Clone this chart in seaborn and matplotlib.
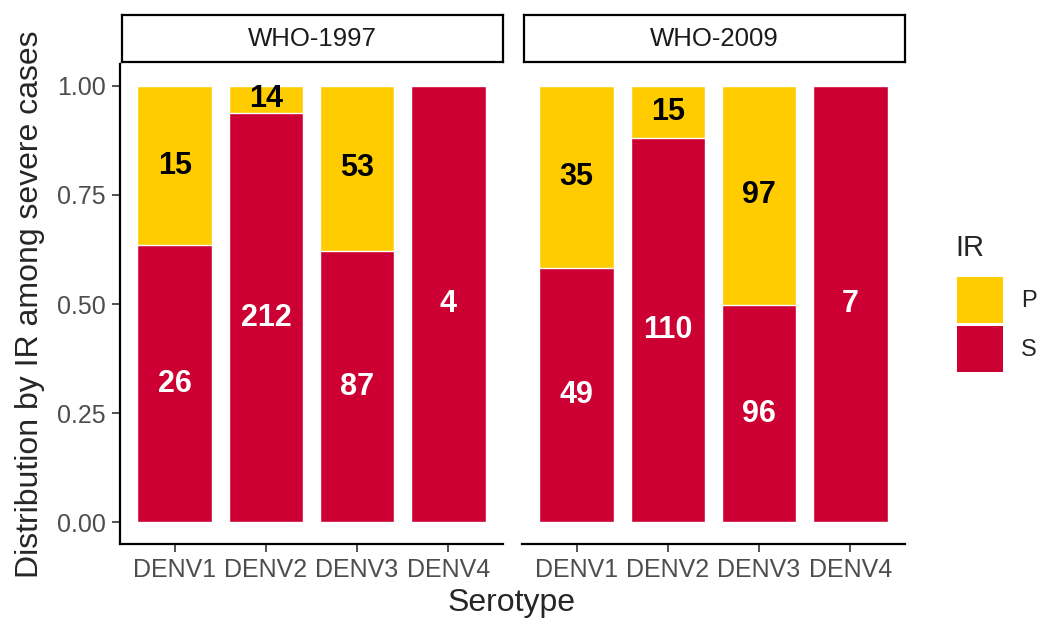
import numpy as np
import pandas as pd
import matplotlib
matplotlib.use("Agg")
import matplotlib.pyplot as plt
import seaborn as sns
from matplotlib.patches import Patch

# values
serotypes = ["DENV1", "DENV2", "DENV3", "DENV4"]
classifications = ["WHO-1997", "WHO-2009"]
who1997_s = [26, 212, 87, 4]
who1997_p = [15, 14, 53, 0]
who2009_s = [49, 110, 96, 7]
who2009_p = [35, 15, 97, 0]

yellow = "#FFCC00"
red = "#CC0033"

rows = []
for who, s_vals, p_vals in zip(classifications, [who1997_s, who2009_s], [who1997_p, who2009_p]):
    for sero, s, p in zip(serotypes, s_vals, p_vals):
        rows.append({"WHO": who, "Serotype": sero, "S": s, "P": p})
df = pd.DataFrame(rows)
df["total"] = df["S"] + df["P"]
df["s_share"] = df["S"] / df["total"]
df["top"] = (df["S"] + df["P"]) / df["total"]

sns.set_theme(style="white")
plt.rcParams["font.family"] = ["Liberation Sans", "DejaVu Sans"]

W, H = 1043, 625
fig = plt.figure(figsize=(W / 100, H / 100), dpi=100)

def px_box(x0, y0, x1, y1):
    # pixel box (top-left origin) -> figure fraction rect
    return [x0 / W, 1 - y1 / H, (x1 - x0) / W, (y1 - y0) / H]

panels = [(120, 503), (522, 905)]
for k, (who, (x0, x1)) in enumerate(zip(classifications, panels)):
    ax = fig.add_axes(px_box(x0, 64, x1, 544))
    sub = df[df["WHO"] == who]
    sns.barplot(data=sub, x="Serotype", y="top", order=serotypes, color=yellow,
                saturation=1, width=0.82, ax=ax)
    sns.barplot(data=sub, x="Serotype", y="s_share", order=serotypes, color=red,
                saturation=1, width=0.82, ax=ax)
    for i, r in enumerate(sub.itertuples()):
        ax.text(i, r.s_share / 2, str(r.S), color="white", fontsize=22,
                fontweight="bold", ha="center", va="center")
        if r.P > 0:
            ax.text(i, r.s_share + (1 - r.s_share) / 2, str(r.P), color="black",
                    fontsize=22, fontweight="bold", ha="center", va="center")
    ax.set_xlim(-0.6, 3.6)
    ax.set_ylim(-0.05, 1.05)
    ax.set_xlabel("")
    ax.set_ylabel("")
    ax.spines["top"].set_visible(False)
    ax.spines["right"].set_visible(False)
    ax.spines["bottom"].set_linewidth(1.6)
    ax.spines["bottom"].set_color("black")
    ax.tick_params(axis="x", length=6, width=1.2, color="#333333",
                   labelsize=18, labelcolor="#4D4D4D", pad=4, bottom=True)
    if k == 0:
        ax.set_yticks([0, 0.25, 0.5, 0.75, 1.0])
        ax.set_yticklabels(["0.00", "0.25", "0.50", "0.75", "1.00"])
        ax.spines["left"].set_linewidth(1.6)
        ax.spines["left"].set_color("black")
        ax.tick_params(axis="y", length=6, width=1.2, color="#333333",
                       labelsize=18, labelcolor="#4D4D4D", pad=4, left=True)
    else:
        ax.spines["left"].set_visible(False)
        ax.set_yticks([])
    ax.set_facecolor("white")

    # facet strip
    sax = fig.add_axes(px_box(x0 + 2, 15, x1, 62))
    sax.set_xticks([])
    sax.set_yticks([])
    for sp in sax.spines.values():
        sp.set_linewidth(1.6)
        sp.set_color("black")
    sax.set_facecolor("white")
    sax.text(0.5, 0.5, who, ha="center", va="center", fontsize=18.5, color="#1A1A1A",
             transform=sax.transAxes)

fig.text(512 / W, 1 - 603 / H, "Serotype", ha="center", va="center", fontsize=23)
fig.text(30 / W, 1 - 304 / H, "Distribution by IR among severe cases", ha="center",
         va="center", rotation=90, fontsize=23)

# legend: title placed on its own, keys below
fig.text(955 / W, 1 - 248 / H, "IR", ha="left", va="center", fontsize=21)
handles = [Patch(facecolor=yellow, edgecolor="none", label="P"),
           Patch(facecolor=red, edgecolor="none", label="S")]
leg = fig.legend(handles=handles, loc="upper left",
                 bbox_to_anchor=(948 / W, 1 - 268 / H), frameon=False,
                 fontsize=17, handlelength=1.95, handleheight=2.6,
                 labelspacing=0.12, handletextpad=0.75, borderaxespad=0)

fig.savefig("out.png", dpi=100, facecolor="white")
